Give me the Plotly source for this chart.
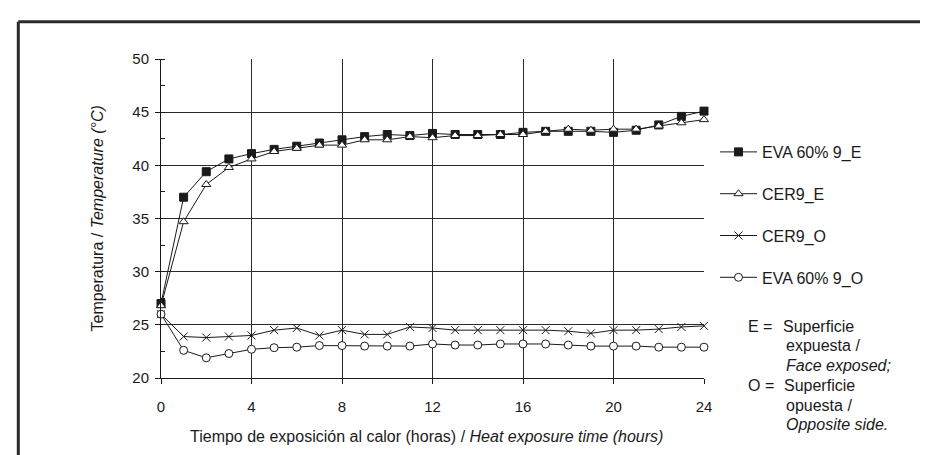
import plotly.graph_objects as go

hours = list(range(0, 25))
eva_e = [27.0, 37.0, 39.4, 40.6, 41.1, 41.5, 41.8, 42.1, 42.4, 42.7, 42.9, 42.8, 43.0,
         42.9, 42.9, 42.9, 43.1, 43.2, 43.2, 43.2, 43.1, 43.3, 43.8, 44.6, 45.1]
cer_e = [26.8, 34.7, 38.2, 39.8, 40.6, 41.3, 41.6, 41.9, 41.9, 42.4, 42.4, 42.7, 42.6,
         42.8, 42.8, 42.9, 42.9, 43.2, 43.4, 43.3, 43.4, 43.4, 43.7, 44.0, 44.3]
cer_o = [26.0, 23.9, 23.8, 23.9, 24.0, 24.5, 24.7, 24.0, 24.5, 24.1, 24.1, 24.8, 24.7,
         24.5, 24.5, 24.5, 24.5, 24.5, 24.4, 24.2, 24.5, 24.5, 24.6, 24.8, 24.9]
eva_o = [26.0, 22.6, 21.9, 22.3, 22.7, 22.85, 22.9, 23.05, 23.05, 23.0, 23.0, 23.0, 23.2,
         23.1, 23.1, 23.2, 23.2, 23.2, 23.1, 23.0, 23.0, 23.0, 22.9, 22.9, 22.9]

names = ["EVA 60% 9_E", "CER9_E", "CER9_O", "EVA 60% 9_O"]
x_ticks = [0, 4, 8, 12, 16, 20, 24]
y_ticks = [20, 25, 30, 35, 40, 45, 50]

FONT = "Liberation Sans, Arial, sans-serif"
INK = "#1a1a1a"

W, H = 928, 455
L, R, T, B = 153, 232, 51, 85
pw, ph = W - L - R, H - T - B

def px(xp):
    return (xp - L) / pw

def py(yp):
    return (H - B - yp) / ph

fig = go.Figure()
styles = [
    dict(symbol="square", size=8, color=INK, line=dict(color=INK, width=1)),
    dict(symbol="triangle-up", size=8, color="white", line=dict(color=INK, width=1)),
    dict(symbol="x-thin", size=8, color=INK, line=dict(color=INK, width=1)),
    dict(symbol="circle", size=8, color="white", line=dict(color=INK, width=1)),
]
for i, (nm, ys) in enumerate(zip(names, [eva_e, cer_e, cer_o, eva_o])):
    fig.add_trace(go.Scatter(
        x=hours, y=ys, name=nm, mode="lines+markers",
        line=dict(color=INK, width=1), marker=styles[i],
        legendgroup=f"g{i}", cliponaxis=False,
    ))

fig.update_layout(
    width=W, height=H,
    margin=dict(l=L, r=R, t=T, b=B, autoexpand=False),
    paper_bgcolor="white", plot_bgcolor="white",
    font=dict(family=FONT, size=16, color=INK),
    showlegend=True,
    legend=dict(x=px(707), y=py(127), xanchor="left", yanchor="top",
                font=dict(size=16, family=FONT, color=INK),
                tracegroupgap=18, bgcolor="rgba(0,0,0,0)", itemwidth=37),
    xaxis=dict(range=[0, 24], tickvals=x_ticks, ticktext=[str(v) for v in x_ticks],
               showgrid=True, gridcolor="#2a2a2a", gridwidth=1,
               showline=True, linecolor=INK, linewidth=1,
               ticks="outside", ticklen=5, tickcolor=INK, ticklabelstandoff=10,
               tickfont=dict(size=15, family=FONT, color=INK), zeroline=False),
    yaxis=dict(range=[20, 50], tickvals=y_ticks, ticktext=[str(v) for v in y_ticks],
               showgrid=True, gridcolor="#2a2a2a", gridwidth=1,
               showline=True, linecolor=INK, linewidth=1,
               ticks="outside", ticklen=5, tickcolor=INK, ticklabelstandoff=3,
               minor=dict(dtick=2.5, ticks="inside", ticklen=4, tickcolor=INK, showgrid=False),
               tickfont=dict(size=15, family=FONT, color=INK), zeroline=False),
)

ann = [
    dict(x=px(89), y=0.5, text="Temperatura / <i>Temperature (°C)</i>", textangle=-90,
         xanchor="center", yanchor="middle", font=dict(size=16)),
    dict(x=px(418), y=py(428), text="Tiempo de exposición al calor (horas) / <i>Heat exposure time (hours)</i>",
         xanchor="center", yanchor="middle", font=dict(size=16)),
]
notes = [
    (738, 318, "E ="), (773, 318, "Superficie"), (776, 337, "expuesta /"),
    (776, 357, "<i>Face exposed;</i>"),
    (738, 377, "O ="), (774, 377, "Superficie"), (776, 397, "opuesta /"),
    (776, 416, "<i>Opposite side.</i>"),
]
for xp, yp, t in notes:
    ann.append(dict(x=px(xp), y=py(yp), text=t, xanchor="left", yanchor="middle",
                    font=dict(size=16)))
for a in ann:
    a.update(xref="paper", yref="paper", showarrow=False)
fig.update_layout(annotations=ann)

# outer frame (top and left edges visible in the reference)
fig.add_shape(type="line", xref="paper", yref="paper", x0=px(10.3), x1=px(940),
              y0=py(13.7), y1=py(13.7), line=dict(color="#2a2a2a", width=3))
fig.add_shape(type="line", xref="paper", yref="paper", x0=px(10.3), x1=px(10.3),
              y0=py(13.7), y1=py(470), line=dict(color="#2a2a2a", width=3))

fig.write_html("out.html")
